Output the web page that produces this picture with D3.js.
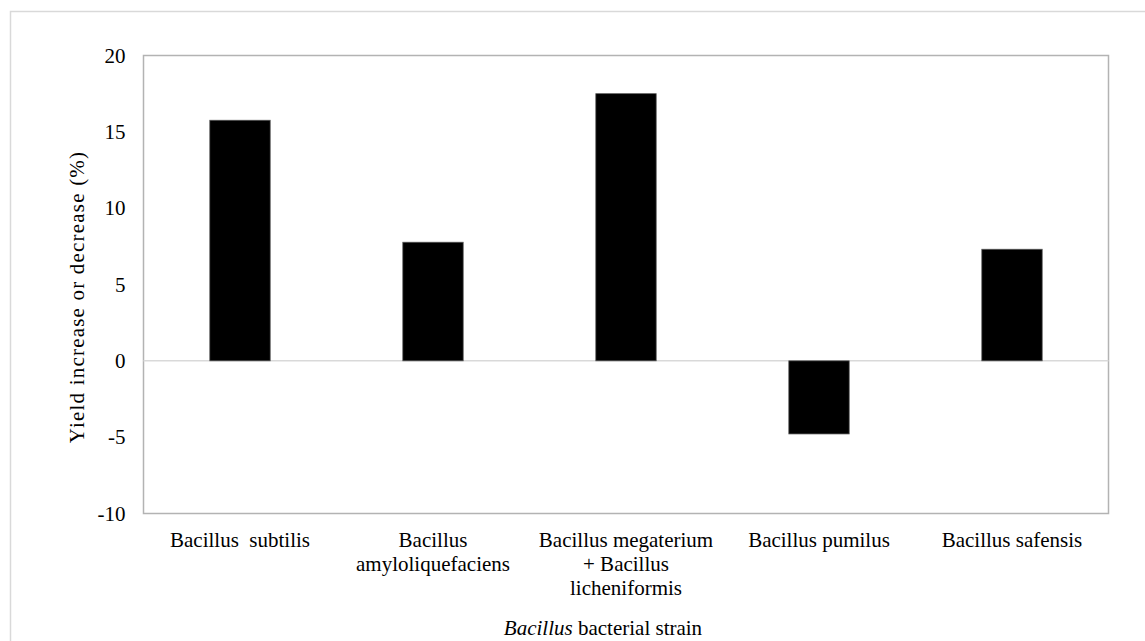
<!DOCTYPE html>
<html><head><meta charset="utf-8">
<script src="https://cdn.jsdelivr.net/npm/d3@7"></script>
<style>
html,body{margin:0;padding:0;background:#fff;}
svg text{font-family:"Liberation Serif","Tinos","Times New Roman","Times","Nimbus Roman","DejaVu Serif",serif !important;fill:#000;}
</style></head>
<body><svg id="c" width="1145" height="641"></svg>
<script>
const categories = ["Bacillus  subtilis", "Bacillus amyloliquefaciens", "Bacillus megaterium + Bacillus licheniformis", "Bacillus pumilus", "Bacillus safensis"];
const categoryLines = [["Bacillus  subtilis"], ["Bacillus", "amyloliquefaciens"], ["Bacillus megaterium", "+ Bacillus", "licheniformis"], ["Bacillus pumilus"], ["Bacillus safensis"]];
const values = [15.76, 7.77, 17.5, -4.79, 7.31];
const yTicks = [-10, -5, 0, 5, 10, 15, 20];
const yTitle = "Yield increase or decrease (%)";

const svg = d3.select("#c");
const fs = 21;
svg.append("rect").attr("x",10.5).attr("y",11.5).attr("width",1140).attr("height",640)
  .attr("fill","none").attr("stroke","#d9d9d9").attr("stroke-width",1.5);

const L=143.5, R=1108.5, T=55.5, B=513.5;
const x = d3.scaleBand().domain(categories).range([L,R]).paddingInner(0.687).paddingOuter(0.3435);
const y = d3.scaleLinear().domain([-10,20]).range([B,T]);

svg.append("rect").attr("x",L).attr("y",T).attr("width",R-L).attr("height",B-T)
  .attr("fill","none").attr("stroke","#b3b3b3").attr("stroke-width",1.5);

svg.append("line").attr("x1",L).attr("x2",R).attr("y1",y(0)).attr("y2",y(0))
  .attr("stroke","#d9d9d9").attr("stroke-width",1.5);

svg.append("g").selectAll("rect").data(values).join("rect")
  .attr("x",(d,i)=>x(categories[i]))
  .attr("width",x.bandwidth())
  .attr("y",d=>y(Math.max(0,d)))
  .attr("height",d=>Math.abs(y(d)-y(0)))
  .attr("fill","#000").attr("stroke","#595959").attr("stroke-width",0.75);

const yAxis = d3.axisLeft(y).tickValues(yTicks).tickSize(0).tickPadding(18).tickFormat(d=>String(d));
const gy = svg.append("g").attr("transform",`translate(${L},0)`).call(yAxis);
gy.attr("font-family",null).attr("font-size",null);
gy.select(".domain").remove();
gy.selectAll("text").attr("font-size",fs);

const gx = svg.append("g");
categoryLines.forEach((lines,i)=>{
  const cx = x(categories[i]) + x.bandwidth()/2;
  const t = gx.append("text").attr("text-anchor","middle").attr("font-size",fs)
    .attr("x",cx).attr("y",547).style("white-space","pre");
  lines.forEach((ln,j)=>{
    t.append("tspan").attr("x",cx).attr("dy", j===0?0:24).text(ln);
  });
});

const xt = svg.append("text").attr("x",603).attr("y",635).attr("text-anchor","middle").attr("font-size",fs);
xt.append("tspan").attr("font-style","italic").text("Bacillus");
xt.append("tspan").text(" bacterial strain");

svg.append("text").attr("transform","translate(84,297) rotate(-90)").attr("text-anchor","middle")
  .attr("font-size",fs).attr("letter-spacing",1.2).text(yTitle);
</script></body></html>
